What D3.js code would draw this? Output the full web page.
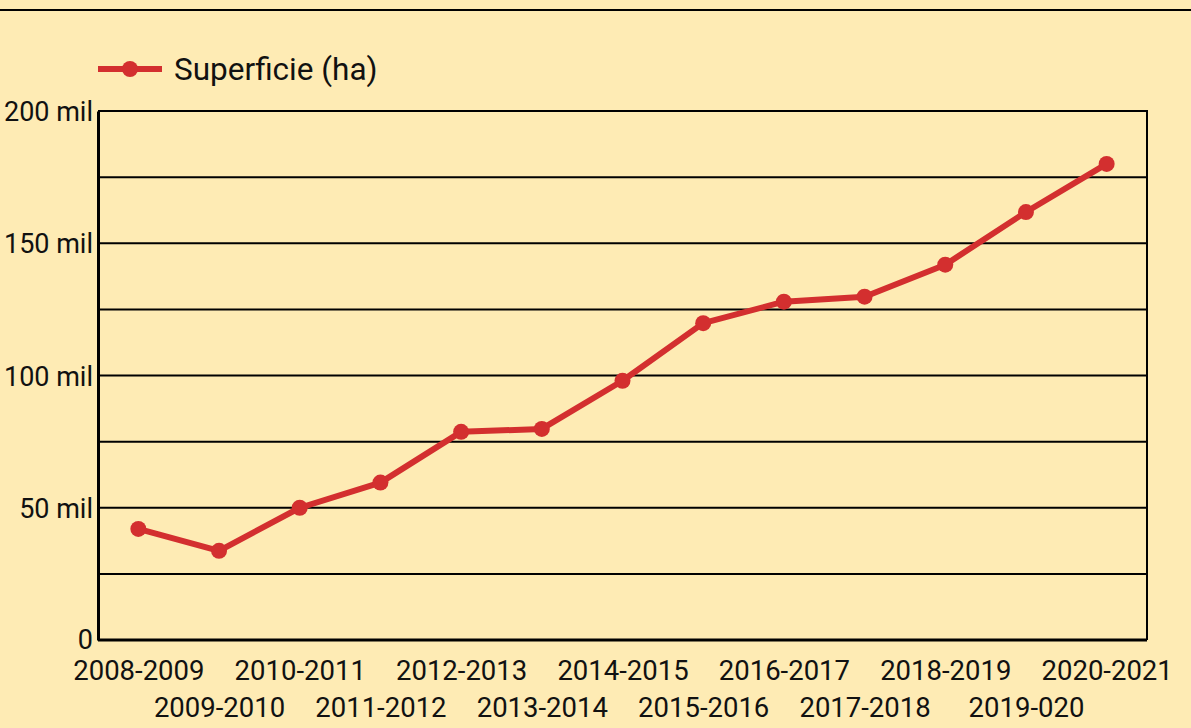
<!DOCTYPE html>
<html>
<head>
<meta charset="utf-8">
<script src="https://cdn.jsdelivr.net/npm/d3@7"></script>
<style>
  html, body { margin: 0; padding: 0; background: #feebb4; }
  svg { display: block; font-family: Roboto, sans-serif; }
</style>
</head>
<body>
<div id="chart"></div>
<script>
// chart data
const seasons = ['2008-2009', '2009-2010', '2010-2011', '2011-2012', '2012-2013', '2013-2014',
  '2014-2015', '2015-2016', '2016-2017', '2017-2018', '2018-2019', '2019-020', '2020-2021'];
const superficie = [42000, 33700, 50000, 59500, 78700, 79800, 98000, 119800, 127900, 129800, 141900, 161800, 180000];
const yTicks = [0, 50000, 100000, 150000, 200000];
const yTickLabels = ['0', '50 mil', '100 mil', '150 mil', '200 mil'];
const gridValues = [25000, 50000, 75000, 100000, 125000, 150000, 175000];

const W = 1191, H = 728;
const margin = { top: 111, right: 44, bottom: 88, left: 98 };
const width = W - margin.left - margin.right;
const height = H - margin.top - margin.bottom;
const red = '#d32f2f';

const svg = d3.select('#chart').append('svg')
  .attr('width', W)
  .attr('height', H);

svg.append('rect').attr('width', W).attr('height', H).attr('fill', '#feebb4');

// top rule
svg.append('line')
  .attr('x1', 0).attr('x2', W)
  .attr('y1', 10).attr('y2', 10)
  .attr('stroke', '#000').attr('stroke-width', 2);

const g = svg.append('g').attr('transform', `translate(${margin.left},${margin.top})`);

const x = d3.scalePoint().domain(seasons).range([0, width]).padding(0.5);
const y = d3.scaleLinear().domain([0, 200000]).range([height, 0]);

// gridlines
g.selectAll('.grid')
  .data(gridValues)
  .enter()
  .append('line')
  .attr('x1', 0).attr('x2', width)
  .attr('y1', d => y(d)).attr('y2', d => y(d))
  .attr('stroke', '#000').attr('stroke-width', 2);

// frame: top and right
g.append('path')
  .attr('d', `M0,${y(200000)}H${width}V${height}`)
  .attr('fill', 'none').attr('stroke', '#000').attr('stroke-width', 2);

// y axis
const yAxis = g.append('g')
  .call(d3.axisLeft(y).tickValues(yTicks).tickSize(0).tickPadding(5)
    .tickFormat((d, i) => yTickLabels[i]));
yAxis.select('.domain').attr('stroke', '#000').attr('stroke-width', 3);
yAxis.selectAll('text').attr('font-size', 27).attr('fill', '#111')
  .attr('font-family', 'Roboto, sans-serif')
  .attr('dy', (d, i) => i === 0 ? '0.3em' : '0.36em');

// x axis
const xAxis = g.append('g')
  .attr('transform', `translate(0,${height})`)
  .call(d3.axisBottom(x).tickSize(0).tickPadding(0));
xAxis.select('.domain').attr('stroke', '#000').attr('stroke-width', 3)
  .attr('d', `M0,0H${width}`);
xAxis.selectAll('text')
  .attr('font-size', 27.5).attr('fill', '#111')
  .attr('font-family', 'Roboto, sans-serif')
  .attr('y', (d, i) => i % 2 === 0 ? 30 : 67)
  .attr('dy', '0.35em');

// line
const line = d3.line()
  .x((d, i) => x(seasons[i]))
  .y(d => y(d));

g.append('path')
  .datum(superficie)
  .attr('fill', 'none')
  .attr('stroke', red)
  .attr('stroke-width', 6)
  .attr('stroke-linejoin', 'round')
  .attr('d', line);

g.selectAll('.dot')
  .data(superficie)
  .enter()
  .append('circle')
  .attr('cx', (d, i) => x(seasons[i]))
  .attr('cy', d => y(d))
  .attr('r', 8)
  .attr('fill', red);

// legend
const legend = svg.append('g').attr('transform', 'translate(98,69)');
legend.append('line')
  .attr('x1', 0).attr('x2', 64)
  .attr('stroke', red).attr('stroke-width', 6);
legend.append('circle').attr('cx', 32).attr('r', 8).attr('fill', red);
legend.append('text')
  .attr('x', 76).attr('y', 0).attr('dy', '0.35em')
  .attr('font-size', 31.5).attr('fill', '#111')
  .text('Superficie (ha)');
</script>
</body>
</html>
